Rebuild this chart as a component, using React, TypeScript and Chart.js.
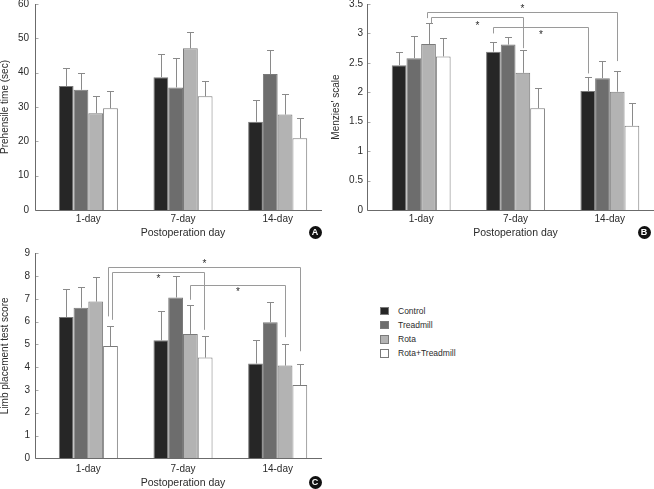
import React, { useEffect, useRef } from 'react';
import { Chart, registerables } from 'chart.js';

Chart.register(...registerables);

const FONT = "'Liberation Sans', Arial, sans-serif";
const TEXT = '#2b2b2b';

// ---- shared ----
const categories = ['1-day', '7-day', '14-day'];
const seriesNames = ['Control', 'Treadmill', 'Rota', 'Rota+Treadmill'];
const seriesColors = ['#262626', '#6d6d6d', '#b3b3b3', '#ffffff'];
const xAxisTitle = 'Postoperation day';

// ---- Panel A: Prehensile time (sec) ----
const aControl = [36.1, 38.7, 25.7];
const aTreadmill = [35.0, 35.7, 39.6];
const aRota = [28.2, 47.1, 27.8];
const aRotaTreadmill = [29.6, 33.1, 20.9];
const aControlErr = [5.2, 6.8, 6.4];
const aTreadmillErr = [4.8, 8.5, 7.0];
const aRotaErr = [5.1, 4.6, 5.9];
const aRotaTreadmillErr = [5.0, 4.6, 5.9];

// ---- Panel B: Menzies' scale ----
const bControl = [2.46, 2.69, 2.02];
const bTreadmill = [2.58, 2.81, 2.24];
const bRota = [2.82, 2.33, 2.01];
const bRotaTreadmill = [2.61, 1.73, 1.43];
const bControlErr = [0.23, 0.16, 0.24];
const bTreadmillErr = [0.38, 0.13, 0.3];
const bRotaErr = [0.35, 0.38, 0.35];
const bRotaTreadmillErr = [0.32, 0.35, 0.38];

// ---- Panel C: Limb placement test score ----
const cControl = [6.2, 5.18, 4.16];
const cTreadmill = [6.61, 7.06, 5.97];
const cRota = [6.88, 5.46, 4.07];
const cRotaTreadmill = [4.93, 4.42, 3.22];
const cControlErr = [1.22, 1.27, 1.02];
const cTreadmillErr = [0.89, 0.93, 0.89];
const cRotaErr = [1.07, 1.25, 0.93];
const cRotaTreadmillErr = [0.9, 0.93, 0.94];

type Bracket = {
  fromSeries: number; fromCat: number; toSeries: number; toCat: number;
  line: number; leftEnd: number; rightEnd: number; star: number;
  fromNudge?: number; toNudge?: number;
};

// significance brackets (values in axis units)
const bBrackets: Bracket[] = [
  { fromSeries: 2, fromCat: 0, toSeries: 2, toCat: 2, line: 3.36, leftEnd: 3.26, rightEnd: 2.53, star: 3.46, fromNudge: -2 },
  { fromSeries: 2, fromCat: 0, toSeries: 2, toCat: 1, line: 3.28, leftEnd: 3.17, rightEnd: 2.75, star: 3.17, fromNudge: 2 },
  { fromSeries: 0, fromCat: 1, toSeries: 0, toCat: 2, line: 3.11, leftEnd: 3.0, rightEnd: 2.32, star: 3.02 },
];
const cBrackets: Bracket[] = [
  { fromSeries: 3, fromCat: 0, toSeries: 3, toCat: 2, line: 8.42, leftEnd: 6.23, rightEnd: 4.7, star: 8.63, fromNudge: -2 },
  { fromSeries: 3, fromCat: 0, toSeries: 3, toCat: 1, line: 8.17, leftEnd: 6.08, rightEnd: 5.64, star: 7.98, fromNudge: 2, toNudge: -1 },
  { fromSeries: 2, fromCat: 1, toSeries: 2, toCat: 2, line: 7.61, leftEnd: 6.96, rightEnd: 5.32, star: 7.39 },
];

interface PanelSpec {
  left: number; top: number; width: number; height: number;
  values: number[][]; errors: number[][];
  yMax: number; yStep: number; yTitle: string;
  yAxisWidth: number; padTop: number; padRight: number; xAxisHeight: number;
  yTickPad: number; xTickPad: number; xTitlePad: number; yTitlePad: number;
  axisGap: number; brackets: Bracket[];
}

const panelA: PanelSpec = {
  left: 0, top: 0, width: 330, height: 245,
  values: [aControl, aTreadmill, aRota, aRotaTreadmill],
  errors: [aControlErr, aTreadmillErr, aRotaErr, aRotaTreadmillErr],
  yMax: 60, yStep: 10, yTitle: 'Prehensile time (sec)',
  yAxisWidth: 41, padTop: 4, padRight: 5, xAxisHeight: 35,
  yTickPad: 12, xTickPad: 3, xTitlePad: 6.5, yTitlePad: 0,
  axisGap: 6, brackets: [],
};
const panelB: PanelSpec = {
  left: 330, top: 0, width: 330, height: 245,
  values: [bControl, bTreadmill, bRota, bRotaTreadmill],
  errors: [bControlErr, bTreadmillErr, bRotaErr, bRotaTreadmillErr],
  yMax: 3.5, yStep: 0.5, yTitle: "Menzies' scale",
  yAxisWidth: 44, padTop: 4, padRight: 3, xAxisHeight: 35,
  yTickPad: 11, xTickPad: 3, xTitlePad: 6.5, yTitlePad: 1.5,
  axisGap: 7, brackets: bBrackets,
};
const panelC: PanelSpec = {
  left: 0, top: 245, width: 330, height: 244,
  values: [cControl, cTreadmill, cRota, cRotaTreadmill],
  errors: [cControlErr, cTreadmillErr, cRotaErr, cRotaTreadmillErr],
  yMax: 9, yStep: 1, yTitle: 'Limb placement test score',
  yAxisWidth: 41, padTop: 8.3, padRight: 5, xAxisHeight: 30.7,
  yTickPad: 11, xTickPad: 4.5, xTitlePad: 0.5, yTitlePad: 0,
  axisGap: 6, brackets: cBrackets,
};

const decorPlugin = {
  id: 'panelDecor',
  afterDatasetsDraw(chart: any, _args: any, opts: any) {
    const { ctx, chartArea: ca, scales } = chart;
    const y = scales.y;
    const spec: PanelSpec = opts.spec;
    const px = (v: number) => y.getPixelForValue(v);
    const barX = (s: number, c: number) => chart.getDatasetMeta(s).data[c].x;
    ctx.save();

    // error bars
    ctx.strokeStyle = '#8a8a8a';
    ctx.lineWidth = 1;
    spec.errors.forEach((errs, di) => {
      const meta = chart.getDatasetMeta(di);
      meta.data.forEach((el: any, ci: number) => {
        const v = spec.values[di][ci];
        const top = Math.round(px(v + errs[ci])) + 0.5;
        const x = Math.round(el.x) + 0.5;
        ctx.beginPath();
        ctx.moveTo(x, el.y);
        ctx.lineTo(x, top);
        ctx.moveTo(x - 3.5, top);
        ctx.lineTo(x + 3.5, top);
        ctx.stroke();
      });
    });

    // axes
    const axisX = Math.round(ca.left - spec.axisGap) + 0.5;
    const baseY = Math.round(ca.bottom) + 0.5;
    ctx.strokeStyle = '#aaaaaa';
    y.ticks.forEach((t: any) => {
      const py = Math.round(px(t.value)) + 0.5;
      ctx.beginPath();
      ctx.moveTo(axisX, py);
      ctx.lineTo(axisX + 3, py);
      ctx.stroke();
    });
    ctx.strokeStyle = '#6b6b6b';
    ctx.beginPath();
    ctx.moveTo(axisX, Math.round(ca.top));
    ctx.lineTo(axisX, baseY);
    ctx.lineTo(Math.round(ca.right - 3), baseY);
    ctx.stroke();

    // significance brackets
    spec.brackets.forEach((b) => {
      const x1 = Math.round(barX(b.fromSeries, b.fromCat) + (b.fromNudge || 0)) + 0.5;
      const x2 = Math.round(barX(b.toSeries, b.toCat) + (b.toNudge || 0)) + 0.5;
      const yl = Math.round(px(b.line)) + 0.5;
      ctx.strokeStyle = '#9a9a9a';
      ctx.beginPath();
      ctx.moveTo(x1, px(b.leftEnd));
      ctx.lineTo(x1, yl);
      ctx.lineTo(x2, yl);
      ctx.lineTo(x2, px(b.rightEnd));
      ctx.stroke();
      ctx.fillStyle = TEXT;
      ctx.font = `10px ${FONT}`;
      ctx.textAlign = 'center';
      ctx.textBaseline = 'middle';
      ctx.fillText('*', (x1 + x2) / 2, px(b.star) + 2.5);
    });
    ctx.restore();
  },
};

function buildConfig(spec: PanelSpec): any {
  return {
    type: 'bar',
    data: {
      labels: categories,
      datasets: spec.values.map((v, i) => ({
        label: seriesNames[i],
        data: v,
        backgroundColor: seriesColors[i],
        borderColor: '#7a7a7a',
        borderWidth: 1,
        borderSkipped: 'start',
        categoryPercentage: 0.624,
        barPercentage: 1,
      })),
    },
    options: {
      responsive: false,
      animation: false,
      events: [],
      layout: { padding: { top: spec.padTop, right: spec.padRight, left: 0, bottom: 0 } },
      plugins: {
        legend: { display: false },
        tooltip: { enabled: false },
        panelDecor: { spec },
      },
      scales: {
        x: {
          grid: { display: false, drawTicks: false },
          border: { display: false },
          ticks: { font: { family: FONT, size: 10 }, color: TEXT, padding: spec.xTickPad },
          title: {
            display: true, text: xAxisTitle, color: TEXT,
            font: { family: FONT, size: 10.5, lineHeight: 1 },
            padding: { top: 0, bottom: spec.xTitlePad },
          },
          afterFit: (s: any) => { s.height = spec.xAxisHeight; s.paddingLeft = 0; s.paddingRight = 0; },
        },
        y: {
          min: 0, max: spec.yMax,
          grid: { display: false, drawTicks: false },
          border: { display: false },
          ticks: {
            stepSize: spec.yStep, font: { family: FONT, size: 10 }, color: TEXT, padding: spec.yTickPad,
            callback: (v: any) => String(Number(v)),
          },
          title: {
            display: true, text: spec.yTitle, color: TEXT,
            font: { family: FONT, size: 10, lineHeight: 1 },
            padding: { top: spec.yTitlePad, bottom: 0 },
          },
          afterFit: (s: any) => { s.width = spec.yAxisWidth; s.paddingTop = 0; s.paddingBottom = 0; },
        },
      },
    },
    plugins: [decorPlugin],
  };
}

function Panel({ spec }: { spec: PanelSpec }) {
  const ref = useRef<HTMLCanvasElement>(null);
  useEffect(() => {
    const chart = new Chart(ref.current as HTMLCanvasElement, buildConfig(spec));
    return () => chart.destroy();
  }, [spec]);
  return (
    <canvas
      ref={ref}
      width={spec.width}
      height={spec.height}
      style={{ position: 'absolute', left: spec.left, top: spec.top, width: spec.width, height: spec.height }}
    />
  );
}

function Badge({ letter, x, y }: { letter: string; x: number; y: number }) {
  return (
    <div
      style={{
        position: 'absolute', left: x - 6.5, top: y - 6.5, width: 13, height: 13, borderRadius: '50%',
        background: '#111', color: '#fff', fontFamily: "'Liberation Sans', Arial, sans-serif", fontWeight: 700,
        fontSize: 9, lineHeight: '13px', textAlign: 'center',
      }}
    >
      {letter}
    </div>
  );
}

function Legend() {
  return (
    <div style={{ position: 'absolute', left: 380, top: 306.5 }}>
      {seriesNames.map((n, i) => (
        <div key={n} style={{ position: 'absolute', left: 0, top: i * 14.3, height: 9, width: 120, whiteSpace: 'nowrap' }}>
          <div
            style={{
              position: 'absolute', left: 0, top: 0, width: 8.5, height: 8.5, boxSizing: 'border-box',
              background: seriesColors[i], border: '1px solid #7a7a7a',
            }}
          />
          <div
            style={{
              position: 'absolute', left: 18, top: -2, fontFamily: FONT, fontSize: 8.5, lineHeight: '12px', color: TEXT,
            }}
          >
            {n}
          </div>
        </div>
      ))}
    </div>
  );
}

export default function App() {
  return (
    <div style={{ position: 'fixed', left: 0, top: 0, width: 654, height: 489, overflow: 'hidden', background: '#fff' }}>
      <Panel spec={panelA} />
      <Panel spec={panelB} />
      <Panel spec={panelC} />
      <Legend />
      <Badge letter="A" x={315} y={232} />
      <Badge letter="B" x={644} y={232} />
      <Badge letter="C" x={315} y={482} />
    </div>
  );
}
